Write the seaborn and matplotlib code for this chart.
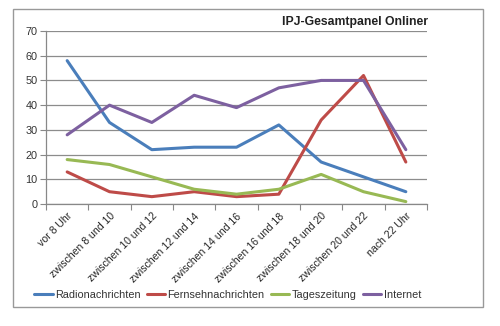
import matplotlib
matplotlib.use("Agg")
import matplotlib.pyplot as plt
import seaborn as sns
import pandas as pd
from matplotlib.patches import Rectangle
from matplotlib.ticker import FixedLocator

categories = ["vor 8 Uhr", "zwischen 8 und 10", "zwischen 10 und 12", "zwischen 12 und 14",
              "zwischen 14 und 16", "zwischen 16 und 18", "zwischen 18 und 20",
              "zwischen 20 und 22", "nach 22 Uhr"]
radio = [58, 33, 22, 23, 23, 32, 17, 11, 5]
fernsehen = [13, 5, 3, 5, 3, 4, 34, 52, 17]
tageszeitung = [18, 16, 11, 6, 4, 6, 12, 5, 1]
internet = [28, 40, 33, 44, 39, 47, 50, 50, 22]
series_names = ["Radionachrichten", "Fernsehnachrichten", "Tageszeitung", "Internet"]
colors = ["#4a7ebb", "#be4b48", "#98b954", "#7d60a0"]
title = "IPJ-Gesamtpanel Onliner"

sns.set_theme(style="white")
plt.rcParams['font.family'] = ['Liberation Sans', 'DejaVu Sans']

rows = []
for name, vals in zip(series_names, [radio, fernsehen, tageszeitung, internet]):
    for i, v in enumerate(vals):
        rows.append({"pos": i, "Kategorie": categories[i], "Wert": v, "Serie": name})
df = pd.DataFrame(rows)

fig = plt.figure(figsize=(5, 3.26), dpi=100)
ax = fig.add_axes([0.092, 0.374, 0.762, 0.531])

sns.lineplot(data=df, x="pos", y="Wert", hue="Serie", hue_order=series_names,
             palette=colors, linewidth=2.2, ax=ax, legend=True)

ax.set_xlim(-0.5, len(categories) - 0.5)
ax.set_ylim(0, 70)
ax.set_yticks(range(0, 71, 10))
ax.set_xticks(range(len(categories)))
ax.set_xticklabels(categories, rotation=45, ha="right", rotation_mode="anchor", fontsize=7.6)
ax.xaxis.set_minor_locator(FixedLocator([i - 0.5 for i in range(len(categories) + 1)]))
ax.tick_params(axis="x", which="major", length=0, pad=5)
ax.tick_params(axis="x", which="minor", length=4, color="#888888", width=0.8, direction="out", bottom=True)
ax.tick_params(axis="y", length=4, color="#888888", width=0.8, direction="out", left=True,
               labelsize=7.8, pad=2, labelcolor="#333333")
ax.set_xlabel("")
ax.set_ylabel("")
ax.grid(axis="y", color="#8c8c8c", linewidth=0.9)
ax.set_axisbelow(True)
for s in ["top", "right"]:
    ax.spines[s].set_visible(False)
for s in ["left", "bottom"]:
    ax.spines[s].set_color("#888888")
    ax.spines[s].set_linewidth(0.9)

handles, labels = ax.get_legend_handles_labels()
ax.get_legend().remove()
fig.legend(handles, labels, loc="center", bbox_to_anchor=(0.455, 0.095), ncol=4,
           frameon=False, fontsize=7.8, handlelength=1.7, handletextpad=0.2,
           columnspacing=0.6, labelcolor="#333333")

fig.text(0.856, 0.933, title, ha="right", va="center", fontsize=8.8, fontweight="bold",
         color="#222222")

fig.patches.append(Rectangle((0.026, 0.058), 0.94, 0.914, transform=fig.transFigure,
                             fill=False, edgecolor="#999999", linewidth=1.0))

fig.savefig("out.png", dpi=100)
